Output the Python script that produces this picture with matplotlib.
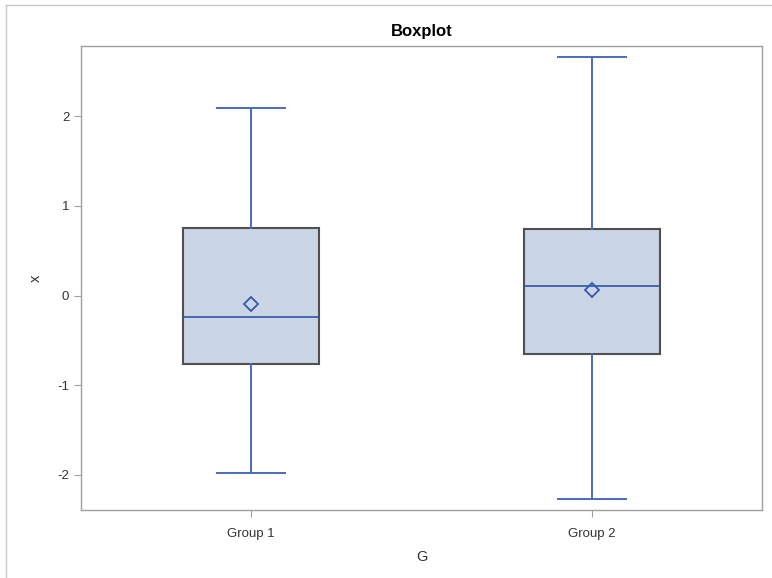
import matplotlib.pyplot as plt
from matplotlib.lines import Line2D

plt.rcParams['font.family'] = ['Liberation Sans', 'DejaVu Sans']
plt.rcParams['axes.unicode_minus'] = False

groups = ['Group 1', 'Group 2']
whisker_low = [-1.98, -2.27]
q1 = [-0.76, -0.65]
medians = [-0.235, 0.11]
q3 = [0.75, 0.74]
whisker_high = [2.09, 2.66]
means = [-0.10, 0.056]

stats = []
for i, g in enumerate(groups):
    stats.append({
        'label': g, 'whislo': whisker_low[i], 'q1': q1[i], 'med': medians[i],
        'q3': q3[i], 'whishi': whisker_high[i], 'mean': means[i], 'fliers': [],
    })

fig = plt.figure(figsize=(7.72, 5.78), dpi=100)
ax = fig.add_axes([81 / 772, 1 - 510 / 578, (762 - 81) / 772, (510 - 46) / 578])

blue = '#4A6BBF'
ax.bxp(stats, positions=[0, 1], widths=0.4, patch_artist=True, showmeans=True,
       boxprops=dict(facecolor='#CAD5E5', edgecolor='#505050', linewidth=1.5),
       whiskerprops=dict(color=blue, linewidth=1.4),
       capprops=dict(color=blue, linewidth=1.4),
       medianprops=dict(color='#2F55A8', linewidth=1.2),
       meanprops=dict(marker='D', markerfacecolor='none', markeredgecolor='#3558AC',
                      markeredgewidth=1.3, markersize=7),
       capwidths=0.2)

ax.set_xlim(-0.5, 1.5)
ax.set_ylim(-2.39, 2.78)
ax.set_yticks([-2, -1, 0, 1, 2])
ax.set_xticks([0, 1])
ax.set_xticklabels(groups)

for s in ax.spines.values():
    s.set_color('#A0A0A0')
    s.set_linewidth(1)
ax.tick_params(colors='#A0A0A0', labelcolor='#333333', labelsize=9.5, length=5)
ax.tick_params(axis='x', pad=8)

ax.set_xlabel('G', fontsize=10.5, color='#333333', labelpad=7)
ax.set_ylabel('x', fontsize=10.5, color='#333333', labelpad=10)
ax.set_title('Boxplot', fontsize=12, fontweight='bold', pad=7)

# thin frame around the graph area
fig.add_artist(Line2D([6 / 772, 6 / 772], [0, 1 - 5 / 578], color='#C8C8C8', lw=1))
fig.add_artist(Line2D([6 / 772, 1], [1 - 5 / 578, 1 - 5 / 578], color='#C8C8C8', lw=1))

fig.savefig('out.png', dpi=100)
